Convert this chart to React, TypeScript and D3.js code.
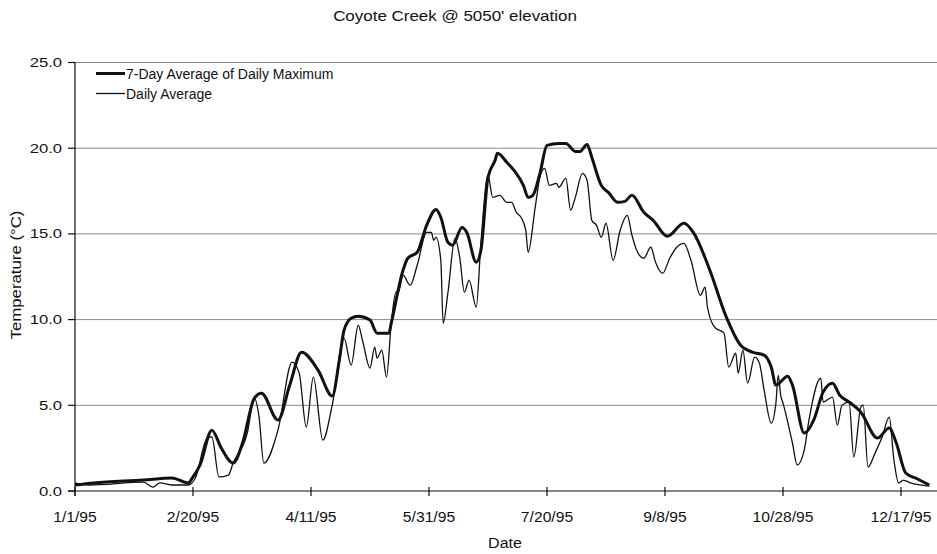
import React from "react";
import * as d3 from "d3";

// Coyote Creek 1995 water temperature.
// days are counted from 1/1/95
const maxDays = [0, 8, 29, 41, 48, 50, 53, 58, 62, 67, 71, 76, 79, 86, 91, 96, 103, 109, 112, 114, 117, 120, 125, 128, 133, 134, 139, 141, 145, 149, 153, 155, 158, 160, 164, 166, 170, 172, 175, 178, 179, 183, 186, 190, 192, 194, 197, 200, 205, 208, 212, 214, 217, 219, 223, 226, 230, 233, 236, 241, 245, 251, 258, 262, 269, 276, 282, 287, 292, 295, 297, 302, 304, 309, 313, 317, 321, 324, 328, 333, 340, 345, 348, 352, 357, 362];
const maxTemps = [0.35, 0.47, 0.64, 0.76, 0.47, 0.82, 1.52, 3.55, 2.5, 1.63, 2.8, 5.42, 5.71, 4.14, 6.18, 8.1, 7.05, 5.54, 7.63, 9.38, 10.08, 10.2, 9.97, 9.21, 9.21, 9.79, 12.88, 13.58, 13.93, 15.5, 16.43, 15.97, 14.51, 14.34, 15.38, 15.09, 13.35, 14.04, 18.3, 19.29, 19.7, 19.17, 18.71, 17.83, 17.13, 17.25, 18.53, 20.16, 20.28, 20.28, 19.81, 19.81, 20.22, 19.46, 17.83, 17.42, 16.84, 16.9, 17.25, 16.26, 15.79, 14.86, 15.62, 15.09, 12.88, 10.14, 8.51, 8.1, 7.93, 7.23, 6.18, 6.7, 6.18, 3.38, 4.14, 5.77, 6.29, 5.59, 5.19, 4.6, 3.09, 3.67, 2.8, 1.05, 0.7, 0.35];

const avgDays = [0, 6, 29, 33, 36, 41, 48, 51, 56, 58, 61, 65, 67, 73, 76, 78, 80, 86, 92, 95, 98, 101, 105, 109, 114, 117, 120, 122, 125, 127, 128, 130, 132, 134, 136, 137, 139, 142, 145, 149, 151, 152, 153, 155, 156, 158, 161, 163, 165, 167, 170, 172, 175, 177, 180, 183, 185, 187, 189, 191, 192, 195, 197, 199, 201, 204, 205, 208, 210, 212, 215, 217, 219, 221, 223, 225, 228, 231, 234, 236, 238, 241, 244, 246, 249, 252, 255, 258, 261, 265, 267, 268, 271, 275, 277, 280, 281, 283, 285, 288, 290, 292, 295, 297, 298, 299, 300, 304, 306, 309, 311, 316, 317, 321, 323, 325, 328, 330, 333, 334, 336, 339, 342, 345, 347, 349, 351, 354, 362];
const avgTemps = [0.47, 0.35, 0.52, 0.23, 0.47, 0.35, 0.35, 0.76, 3.09, 3.15, 0.82, 0.93, 1.63, 3.38, 5.42, 4.31, 1.63, 3.55, 7.52, 6.88, 3.73, 6.64, 2.97, 5.01, 8.92, 7.34, 9.67, 8.68, 7.17, 8.39, 7.75, 8.22, 6.64, 9.79, 11.6, 11.6, 12.59, 12.0, 13.17, 15.09, 15.09, 14.63, 14.8, 13.46, 9.79, 11.54, 14.74, 13.64, 11.6, 12.3, 10.72, 14.45, 18.41, 17.13, 17.25, 16.84, 16.84, 16.26, 15.97, 15.21, 13.93, 16.55, 18.3, 18.82, 17.83, 17.95, 17.72, 18.24, 16.38, 17.13, 18.53, 18.12, 15.79, 15.5, 14.8, 15.62, 13.46, 15.21, 16.08, 14.92, 14.04, 13.58, 14.22, 13.35, 12.7, 13.58, 14.22, 14.45, 13.46, 11.42, 11.89, 10.72, 9.56, 9.21, 7.23, 8.04, 6.88, 8.22, 6.29, 7.81, 7.46, 5.89, 3.96, 5.13, 6.76, 5.59, 5.13, 2.8, 1.52, 2.39, 4.14, 6.59, 5.19, 5.48, 3.85, 5.01, 5.19, 1.98, 4.9, 5.01, 1.4, 2.21, 3.15, 4.31, 1.81, 0.47, 0.64, 0.47, 0.29];

const xTickDays = [0, 50, 100, 150, 200, 250, 300, 350];
const xTickLabels = ["1/1/95", "2/20/95", "4/11/95", "5/31/95", "7/20/95", "9/8/95", "10/28/95", "12/17/95"];
const yTicks = [0, 5, 10, 15, 20, 25];

const W = 937, H = 554;
const font = "'Liberation Sans', Arial, Helvetica, sans-serif";

const x = d3.scaleLinear().domain([0, 365]).range([75, 75 + 365 * 2.36]);
const y = d3.scaleLinear().domain([0, 25]).range([491, 62.5]);

const line = d3.line<[number, number]>()
    .x(d => x(d[0]))
    .y(d => y(d[1]))
    .curve(d3.curveMonotoneX);

// the scan is a little stretched sideways, so text gets a horizontal scale
const Label = ({ x, y, sx = 1, size = 14, anchor = "start", rotate = 0, children }: any) => (
    <text
        transform={`translate(${x},${y}) rotate(${rotate}) scale(${sx},1)`}
        textAnchor={anchor}
        fontFamily={font}
        fontSize={size}
        fill="#111"
    >
        {children}
    </text>
);

export default function App() {
    const maxData = maxDays.map((d, i) => [d, maxTemps[i]] as [number, number]);
    const avgData = avgDays.map((d, i) => [d, avgTemps[i]] as [number, number]);
    const [x0] = x.range();

    return (
        <div style={{ position: "absolute", left: 0, top: 0 }}>
            <svg width={W} height={H} style={{ display: "block", background: "#fff" }}>
                <Label x={455} y={21} size={14.5} sx={1.17} anchor="middle">Coyote Creek @ 5050' elevation</Label>

                {/* grid */}
                {yTicks.filter(t => t > 0).map(t => (
                    <line key={t} x1={x0} x2={W} y1={y(t)} y2={y(t)} stroke="#8a8a8a" strokeWidth={1} />
                ))}

                {/* y axis */}
                <line x1={x0} x2={x0} y1={y(25)} y2={y(0) + 5} stroke="#111" strokeWidth={1.2} />
                {yTicks.map(t => (
                    <g key={t}>
                        <line x1={x0 - 7} x2={x0} y1={y(t)} y2={y(t)} stroke="#111" strokeWidth={1.2} />
                        <Label x={62} y={y(t) + 4.5} size={13} sx={1.28} anchor="end">{t.toFixed(1)}</Label>
                    </g>
                ))}

                {/* x axis */}
                <line x1={x0 - 7} x2={W} y1={y(0)} y2={y(0)} stroke="#111" strokeWidth={1.2} />
                {xTickDays.map((d, i) => (
                    <g key={d}>
                        <line x1={x(d)} x2={x(d)} y1={y(0) - 4} y2={y(0) + 5} stroke="#111" strokeWidth={1.2} />
                        <Label x={x(d)} y={522} size={14} sx={1.12} anchor="middle">{xTickLabels[i]}</Label>
                    </g>
                ))}

                <Label x={505} y={548} size={15} sx={1.07} anchor="middle">Date</Label>
                <Label x={21} y={275} size={14} sx={1.2} anchor="middle" rotate={-90}>Temperature (°C)</Label>

                {/* series */}
                <path d={line(avgData) || ""} fill="none" stroke="#111" strokeWidth={1.3} strokeLinejoin="round" />
                <path d={line(maxData) || ""} fill="none" stroke="#111" strokeWidth={3} strokeLinejoin="round" />

                {/* legend */}
                <line x1={96} x2={125} y1={73.5} y2={73.5} stroke="#111" strokeWidth={3} />
                <Label x={126} y={79} size={14}>7-Day Average of Daily Maximum</Label>
                <line x1={96} x2={125} y1={93.5} y2={93.5} stroke="#111" strokeWidth={1.3} />
                <Label x={126} y={99} size={14}>Daily Average</Label>
            </svg>
        </div>
    );
}
